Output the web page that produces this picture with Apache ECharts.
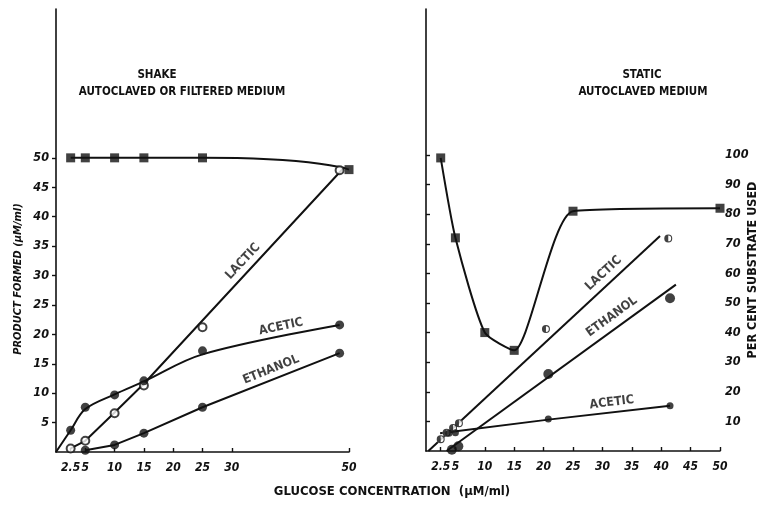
<!DOCTYPE html>
<html>
<head>
<meta charset="utf-8">
<script src="https://cdn.jsdelivr.net/npm/echarts@6/dist/echarts.min.js"></script>
<style>
  html, body { margin: 0; padding: 0; background: #fff; }
  #chart { width: 774px; height: 509px; }
</style>
</head>
<body>
<div id="chart"></div>
<script>
// Tick values
const shakeXTicks = [2.5, 5, 10, 15, 20, 25, 30, 50];
const staticXTicks = [2.5, 5, 10, 15, 20, 25, 30, 35, 40, 45, 50];
const productTicks = [5, 10, 15, 20, 25, 30, 35, 40, 45, 50];
const percentTicks = [10, 20, 30, 40, 50, 60, 70, 80, 90, 100];

// Shake culture, autoclaved or filtered medium: [glucose µM/ml, value]
const shakeSubstrate = [[2.5, 100], [5, 100], [10, 100], [15, 100], [25, 100], [50, 96]];   // per cent used
const shakeLactic = [[2.5, 0.6], [5, 1.9], [10, 6.6], [15, 11.3], [25, 21.2], [48.4, 47.9]];
const shakeLacticCurve = [[2.5, 0.6], [5, 1.9], [10, 6.7], [15, 11.6], [49.2, 48.4]];
const shakeAcetic = [[2.5, 3.7], [5, 7.6], [10, 9.7], [15, 12.1], [25, 17.2], [48.4, 21.6]];
const shakeAceticCurve = [[0, 0], [2.5, 3.7], [5, 7.3], [10, 9.8], [15, 12], [25, 16.6], [48.4, 21.6]];
const shakeEthanol = [[5, 0.3], [10, 1.2], [15, 3.2], [25, 7.6], [48.4, 16.8]];

// Static culture, autoclaved medium
const staticSubstrate = [[2.5, 99], [5, 72], [10, 40], [15, 34], [25, 81], [50, 82]];      // per cent used
const staticLactic = [[2.5, 2.0], [3.5, 3.1], [4.6, 3.9], [5.6, 4.7], [20.4, 20.6], [41.2, 35.9]];
const staticLacticFit = [[0.4, 0], [39.8, 36.3]];
const staticEthanol = [[4.4, 0.2], [5.5, 0.8], [20.8, 13], [41.5, 25.8]];
const staticEthanolFit = [[3.5, 0], [42.5, 28.1]];
const staticAcetic = [[3.9, 3.0], [5.0, 3.1], [20.8, 5.4], [41.5, 7.65]];
const staticAceticFit = [[2.4, 3.0], [20.8, 5.3], [41.5, 7.65]];

const FONT = '"Liberation Sans Narrow", "DejaVu Sans Condensed", "Liberation Sans", sans-serif';
const INK = '#111';

// Curve names written along the lines
const shakeNames = [
  { name: 'LACTIC', value: [31.9, 32.4], rotate: 47 },
  { name: 'ACETIC', value: [38.4, 21.3], rotate: 12 },
  { name: 'ETHANOL', value: [36.7, 14.0], rotate: 22 }
];
const staticNames = [
  { name: 'LACTIC', value: [30.2, 30.0], rotate: 43 },
  { name: 'ETHANOL', value: [31.6, 22.7], rotate: 36 },
  { name: 'ACETIC', value: [31.6, 8.2], rotate: 7 }
];

// Ring with the left half filled
const HALF_DOT = 'path://M50,0 A50,50 0 1,1 50,100 A50,50 0 1,1 50,0 Z M50,14 L50,86 A36,36 0 0,0 50,14 Z';

const chart = echarts.init(document.getElementById('chart'), null, { renderer: 'canvas' });

function axisLine() { return { show: true, lineStyle: { color: INK, width: 1.6 } }; }
function tickLabel(vals, extra) {
  return Object.assign({
    customValues: vals, color: INK, fontFamily: FONT, fontWeight: 'bold',
    fontStyle: 'italic', fontSize: 12.5
  }, extra || {});
}

function curve(data, xi, yi, smooth) {
  return { type: 'line', xAxisIndex: xi, yAxisIndex: yi, data: data, showSymbol: false, symbol: 'none',
    smooth: smooth || false, lineStyle: { color: INK, width: 2 }, z: 2, silent: true };
}
function dots(data, xi, yi, opts) {
  return Object.assign({ type: 'scatter', xAxisIndex: xi, yAxisIndex: yi, data: data, z: 4, silent: true,
    symbol: 'circle', symbolSize: 9, itemStyle: { color: INK } }, opts || {});
}
function names(data, xi, yi) {
  return { type: 'scatter', xAxisIndex: xi, yAxisIndex: yi, symbolSize: 1, z: 5, silent: true,
    itemStyle: { color: 'rgba(0,0,0,0)' },
    data: data.map(d => ({ name: d.name, value: d.value,
      label: { show: true, position: 'inside', formatter: '{b}', rotate: d.rotate,
        color: INK, fontFamily: FONT, fontWeight: 'bold', fontSize: 12.5 } })) };
}
function text(x, y, str, font, rotation) {
  return { type: 'text', x: x, y: y, rotation: rotation || 0,
    style: { text: str, fill: INK, font: font, textAlign: 'center', textVerticalAlign: 'middle' } };
}

const option = {
  backgroundColor: '#fff',
  animation: false,
  grid: [
    { left: 56, top: 9, width: 293, height: 443 },
    { left: 426, top: 9, width: 294, height: 442 }
  ],
  xAxis: [
    { type: 'value', gridIndex: 0, min: 0, max: 50, axisLine: axisLine(), splitLine: { show: false },
      axisTick: { customValues: shakeXTicks, inside: true, length: 4, lineStyle: { color: INK, width: 1.4 } },
      axisLabel: tickLabel(shakeXTicks, { margin: 10, fontSize: 12 }) },
    { type: 'value', gridIndex: 1, min: 0, max: 50, axisLine: axisLine(), splitLine: { show: false },
      axisTick: { customValues: staticXTicks, inside: true, length: 4, lineStyle: { color: INK, width: 1.4 } },
      axisLabel: tickLabel(staticXTicks, { margin: 10, fontSize: 12 }) }
  ],
  yAxis: [
    { type: 'value', gridIndex: 0, min: 0, max: 75.3, axisLine: axisLine(), splitLine: { show: false },
      axisTick: { customValues: productTicks, length: 4, lineStyle: { color: INK, width: 1.4 } },
      axisLabel: tickLabel(productTicks, { margin: 7 }) },
    { type: 'value', gridIndex: 0, min: 0, max: 150.6, show: false },
    { type: 'value', gridIndex: 1, position: 'right', min: 0, max: 149.3, axisLine: axisLine(),
      splitLine: { show: false },
      axisTick: { customValues: percentTicks, length: 4, lineStyle: { color: INK, width: 1.4 } },
      axisLabel: tickLabel(percentTicks, { margin: 5 }) },
    { type: 'value', gridIndex: 1, min: 0, max: 74.65, show: false }
  ],
  graphic: [
    text(157, 75, 'SHAKE', 'bold 11.5px ' + FONT),
    text(182, 92, 'AUTOCLAVED OR FILTERED MEDIUM', 'bold 11.5px ' + FONT),
    text(642, 75, 'STATIC', 'bold 11.5px ' + FONT),
    text(643, 92, 'AUTOCLAVED MEDIUM', 'bold 11.5px ' + FONT),
    text(18, 279, 'PRODUCT FORMED (\u00b5M/ml)', 'italic bold 11px ' + FONT, Math.PI / 2),
    text(753, 270, 'PER CENT SUBSTRATE USED', 'bold 12.5px ' + FONT, Math.PI / 2),
    text(392, 492, 'GLUCOSE CONCENTRATION  (\u00b5M/ml)', 'bold 13px ' + FONT)
  ],
  series: [
    // shake panel
    curve(shakeSubstrate, 0, 1, 0.8),
    dots(shakeSubstrate, 0, 1, { symbol: 'rect', symbolSize: 9 }),
    curve(shakeLacticCurve, 0, 0),
    dots(shakeLactic, 0, 0, { symbolSize: 8, itemStyle: { color: '#fff', borderColor: INK, borderWidth: 2 } }),
    curve(shakeAceticCurve, 0, 0, 0.35),
    dots(shakeAcetic, 0, 0),
    curve(shakeEthanol, 0, 0),
    dots(shakeEthanol, 0, 0),
    names(shakeNames, 0, 0),
    // static panel
    curve(staticSubstrate, 1, 2, 0.2),
    dots(staticSubstrate, 1, 2, { symbol: 'rect', symbolSize: 9 }),
    curve(staticLacticFit, 1, 3),
    dots(staticLactic, 1, 3, { symbolSize: 8, itemStyle: { color: '#fff' } }),
    dots(staticLactic, 1, 3, { symbol: HALF_DOT, symbolSize: 8, symbolKeepAspect: true, z: 5 }),
    curve(staticEthanolFit, 1, 3),
    dots(staticEthanol, 1, 3, { symbolSize: 10 }),
    curve(staticAceticFit, 1, 3),
    dots(staticAcetic, 1, 3, { symbolSize: 7 }),
    names(staticNames, 1, 3)
  ]
};

chart.setOption(option);
</script>
</body>
</html>
